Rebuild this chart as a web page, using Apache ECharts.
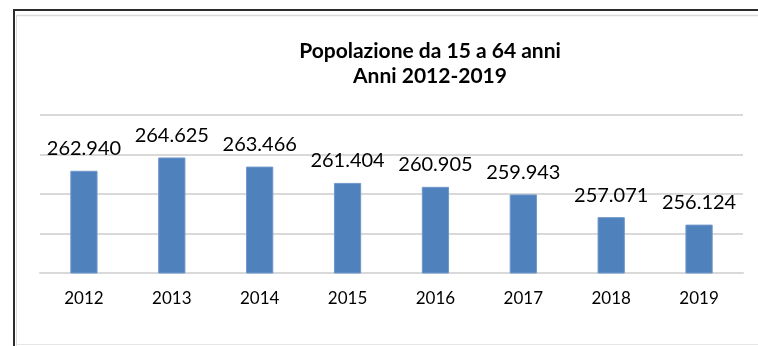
<!DOCTYPE html>
<html>
<head>
<meta charset="utf-8">
<style>
  html, body { margin: 0; padding: 0; background: #ffffff; }
  #chart { width: 758px; height: 346px; }
</style>
<script src="https://cdn.jsdelivr.net/npm/echarts@6/dist/echarts.min.js"></script>
</head>
<body>
<div id="chart"></div>
<script>
// Popolazione residente da 15 a 64 anni, migliaia
const years = ['2012', '2013', '2014', '2015', '2016', '2017', '2018', '2019'];
const population = [262.940, 264.625, 263.466, 261.404, 260.905, 259.943, 257.071, 256.124];
const titleLines = ['Popolazione da 15 a 64 anni', 'Anni 2012-2019'];

const fontFamily = 'Lato, "Open Sans", sans-serif';

const chart = echarts.init(document.getElementById('chart'), null, { renderer: 'canvas' });

chart.setOption({
  backgroundColor: '#ffffff',
  animation: false,
  title: {
    text: titleLines.join('\n'),
    left: 425,
    top: 34,
    textAlign: 'center',
    textStyle: {
      fontFamily: fontFamily,
      fontWeight: 'bold',
      fontSize: 21,
      lineHeight: 25,
      color: '#000000'
    }
  },
  grid: { left: 40, right: 15, top: 115, bottom: 73 },
  xAxis: {
    type: 'category',
    data: years,
    axisLine: { show: true, lineStyle: { color: '#d9d9d9', width: 2 } },
    axisTick: { show: false },
    axisLabel: {
      color: '#000000',
      fontFamily: fontFamily,
      fontSize: 17,
      margin: 17
    }
  },
  yAxis: {
    type: 'value',
    min: 250,
    max: 270,
    interval: 5,
    axisLabel: { show: false },
    axisLine: { show: false },
    axisTick: { show: false },
    splitLine: { lineStyle: { color: '#d9d9d9', width: 2 } }
  },
  series: [{
    type: 'bar',
    data: population,
    barWidth: '31%',
    itemStyle: { color: '#4f81bd', borderColor: '#6f97cc', borderWidth: 1 },
    label: {
      show: true,
      position: 'top',
      distance: 12,
      color: '#000000',
      fontFamily: fontFamily,
      fontSize: 20,
      formatter: p => p.value.toFixed(3)
    }
  }],
  graphic: [
    // outer frame: dark top and left edges, light inner rule
    { type: 'line', shape: { x1: 14, y1: 10, x2: 758, y2: 10 }, style: { stroke: '#2b2b2b', lineWidth: 2 } },
    { type: 'line', shape: { x1: 14, y1: 9, x2: 14, y2: 346 }, style: { stroke: '#2b2b2b', lineWidth: 2 } },
    { type: 'line', shape: { x1: 16, y1: 15.5, x2: 758, y2: 15.5 }, style: { stroke: '#d9d9d9', lineWidth: 1.5 } },
    { type: 'line', shape: { x1: 16.5, y1: 15, x2: 16.5, y2: 346 }, style: { stroke: '#d9d9d9', lineWidth: 1 } },
    { type: 'line', shape: { x1: 16, y1: 344.5, x2: 758, y2: 344.5 }, style: { stroke: '#e6e6e6', lineWidth: 1 } }
  ]
});
</script>
</body>
</html>
